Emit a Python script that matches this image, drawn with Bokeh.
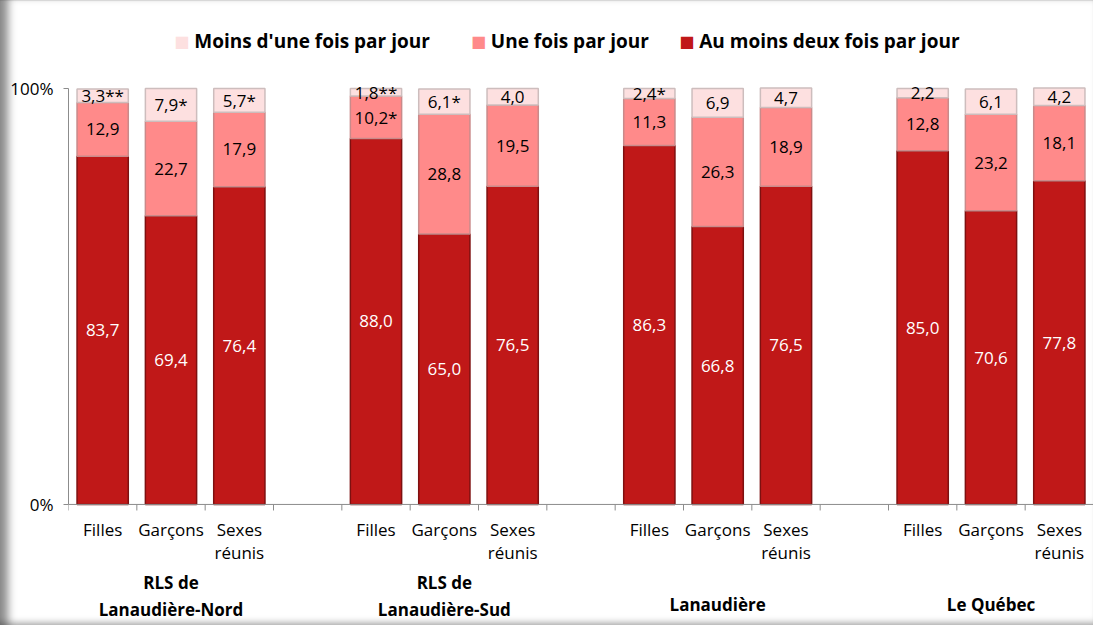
from bokeh.plotting import figure
from bokeh.models import ColumnDataSource, FixedTicker, Range1d
from bokeh.core.properties import value
from bokeh.embed import file_html
from bokeh.resources import INLINE

# ---------------- data ----------------
categories = ["Filles", "Garçons", "Sexes réunis"]
groups = ["RLS de Lanaudière-Nord", "RLS de Lanaudière-Sud", "Lanaudière", "Le Québec"]
series = ["Au moins deux fois par jour", "Une fois par jour", "Moins d'une fois par jour"]

deux_fois = [83.7, 69.4, 76.4, 88.0, 65.0, 76.5, 86.3, 66.8, 76.5, 85.0, 70.6, 77.8]
une_fois = [12.9, 22.7, 17.9, 10.2, 28.8, 19.5, 11.3, 26.3, 18.9, 12.8, 23.2, 18.1]
moins_une = [3.3, 7.9, 5.7, 1.8, 6.1, 4.0, 2.4, 6.9, 4.7, 2.2, 6.1, 4.2]

deux_flags = ["", "", "", "", "", "", "", "", "", "", "", ""]
une_flags = ["", "", "", "*", "", "", "", "", "", "", "", ""]
moins_flags = ["**", "*", "*", "**", "*", "", "*", "", "", "", "", ""]

colors = ["#C01818", "#FF8A8A", "#FDE0E0"]
edges = ["#7E1010", "#C98A8A", "#CDBDBD"]
FONT = "Open Sans"
AXIS_GREY = "#8C8C8C"

# ---------------- positions ----------------
n_slots = 4 * len(groups) - 1
xs = []
for g in range(len(groups)):
    for k in range(len(categories)):
        xs.append(4 * g + k + 0.5)

def fmt(v, flag):
    return ("%.1f" % v).replace(".", ",") + flag

src = ColumnDataSource(dict(x=xs, s0=deux_fois, s1=une_fois, s2=moins_une))

p = figure(width=1093, height=625, output_backend="svg", toolbar_location=None,
           x_range=Range1d(0, n_slots), y_range=Range1d(-29.1, 121.15),
           min_border_left=68, min_border_right=0, min_border_top=0, min_border_bottom=0)
p.styles = {"box-shadow": "inset 12px 0 8px -4px rgba(0,0,0,0.45), inset 0 -7px 6px -4px rgba(0,0,0,0.25), inset 0 1px 1px rgba(0,0,0,0.10)"}
p.border_fill_alpha = 0
p.background_fill_alpha = 0
p.outline_line_color = None
p.xgrid.visible = False
p.ygrid.visible = False
p.xaxis.visible = False

p.vbar_stack(["s0", "s1", "s2"], x="x", width=0.75, source=src,
             fill_color=colors, line_color=edges, line_width=1.5)

# category axis line and boundary ticks (drawn at y = 0)
bounds = list(range(n_slots + 1))
p.segment(x0=[0], y0=[0], x1=[n_slots], y1=[0], line_color=AXIS_GREY, line_width=1)
p.segment(x0=bounds, y0=[0] * len(bounds), x1=bounds, y1=[-1.45] * len(bounds),
          line_color=AXIS_GREY, line_width=1)

# data labels
lx, ly, lt, lc = [], [], [], []
for i, x in enumerate(xs):
    b0 = deux_fois[i]
    b1 = b0 + une_fois[i]
    lx += [x, x, x]
    ly += [b0 / 2, b0 + une_fois[i] / 2, b1 + moins_une[i] / 2]
    lt += [fmt(deux_fois[i], deux_flags[i]), fmt(une_fois[i], une_flags[i]),
           fmt(moins_une[i], moins_flags[i])]
    lc += ["white", "black", "black"]
lsrc = ColumnDataSource(dict(x=lx, y=ly, t=lt, c=lc))
p.text(x="x", y="y", text="t", text_color="c", source=lsrc, text_align="center",
       text_baseline="middle", text_font=value(FONT), text_font_size="17px")

# y axis
p.yaxis.bounds = (0, 100)
p.yaxis.ticker = FixedTicker(ticks=[0, 100])
p.yaxis.major_label_overrides = {0: "0%", 100: "100%"}
p.yaxis.major_label_text_font = FONT
p.yaxis.major_label_text_font_size = "17px"
p.yaxis.major_label_text_color = "black"
p.yaxis.major_tick_in = 0
p.yaxis.major_tick_out = 5
p.yaxis.minor_tick_line_color = None
p.yaxis.axis_line_color = AXIS_GREY
p.yaxis.major_tick_line_color = AXIS_GREY
p.yaxis.major_label_standoff = 10

# category labels
cx, cy, ct = [], [], []
for i, x in enumerate(xs):
    parts = categories[i % 3].split(" ")
    for j, part in enumerate(parts):
        cx.append(x)
        cy.append(-6.0 - 5.6 * j)
        ct.append(part)
p.text(x=cx, y=cy, text=ct, text_align="center", text_baseline="middle",
       text_font=value(FONT), text_font_size="17px", text_color="black")

# group labels
gx, gy, gt = [], [], []
for g, name in enumerate(groups):
    center = 4 * g + 1.5
    if name.startswith("RLS de "):
        gx += [center, center]
        gy += [-18.75, -25.2]
        gt += ["RLS de", name[len("RLS de "):]]
    else:
        gx.append(center)
        gy.append(-24.0)
        gt.append(name)
p.text(x=gx, y=gy, text=gt, text_align="center", text_baseline="middle",
       text_font=value(FONT), text_font_size="17px", text_font_style="bold", text_color="black")

# legend (manual, left to right: pale, salmon, dark)
leg_sq_x = [1.66, 6.00, 9.05]
leg_tx_x = [1.84, 6.18, 9.23]
leg_idx = [2, 1, 0]
p.text(x=leg_sq_x, y=[111.3] * 3, text=["■"] * 3, text_align="center", text_baseline="middle",
       text_font=value("DejaVu Sans"), text_font_size="16px",
       text_color=[colors[i] for i in leg_idx])
p.text(x=leg_tx_x, y=[111.3] * 3, text=[series[i] for i in leg_idx], text_align="left",
       text_baseline="middle", text_font=value(FONT), text_font_size="19px",
       text_font_style="bold", text_color="black")

open("out.html", "w").write(file_html(p, INLINE))
